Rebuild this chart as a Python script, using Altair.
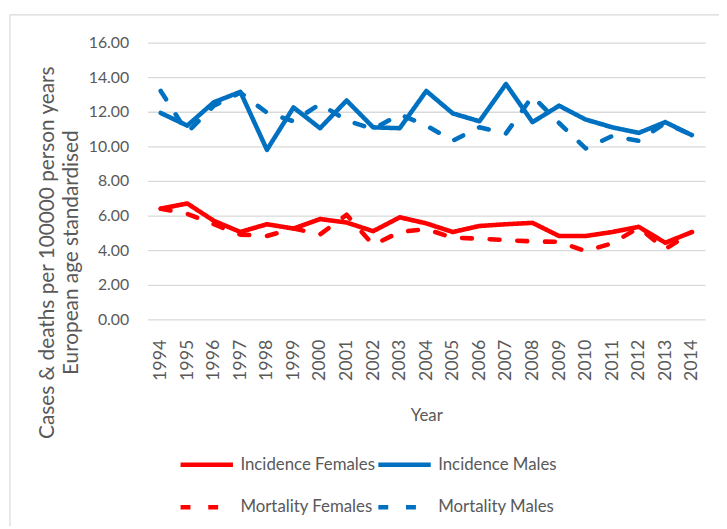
import altair as alt
import pandas as pd

years = [str(y) for y in range(1994, 2015)]
inc_f = [6.4, 6.7, 5.7, 5.05, 5.5, 5.25, 5.8, 5.6, 5.1, 5.9, 5.55, 5.05, 5.4, 5.5, 5.58, 4.82, 4.82, 5.05, 5.35, 4.43, 5.05]
mort_f = [6.4, 6.1, 5.5, 4.9, 4.82, 5.26, 4.91, 6.05, 4.3, 5.05, 5.22, 4.72, 4.67, 4.58, 4.51, 4.48, 3.95, 4.4, 5.3, 4.06, 5.05]
inc_m = [11.93, 11.2, 12.55, 13.15, 9.8, 12.25, 11.05, 12.65, 11.1, 11.05, 13.2, 11.9, 11.45, 13.6, 11.4, 12.35, 11.55, 11.1, 10.78, 11.4, 10.65]
mort_m = [13.2, 10.8, 12.35, 13.1, 11.95, 11.45, 12.45, 11.5, 11.0, 11.85, 11.2, 10.33, 11.1, 10.75, 12.9, 11.35, 9.88, 10.6, 10.32, 11.35, 10.65]

series_names = ["Incidence Females", "Incidence Males", "Mortality Females", "Mortality Males"]
series_vals = [inc_f, inc_m, mort_f, mort_m]
colors = ["#FF0000", "#0070C0", "#FF0000", "#0070C0"]
dashes = [[1, 0], [1, 0], [10, 18], [10, 18]]
y_ticks = [0, 2, 4, 6, 8, 10, 12, 14, 16]

rows = []
for name, vals in zip(series_names, series_vals):
    for yr, v in zip(years, vals):
        rows.append({"Year": yr, "value": v, "series": name})
df = pd.DataFrame(rows)

FONT = "Lato"
GRAY = "#595959"
GRID = "#d9d9d9"
W, H = 564, 280
PL, PT = 141, 32

legend = alt.Legend(
    title=None, orient="none", legendX=31, legendY=398, columns=2, direction="horizontal",
    symbolType="stroke", symbolSize=2809, symbolStrokeWidth=4.5,
    labelFont=FONT, labelFontSize=17, labelColor=GRAY, labelOffset=5,
    columnPadding=-8, rowPadding=5, labelLimit=300,
)

lines = alt.Chart(df).mark_line(strokeWidth=4.6, strokeCap="round", strokeJoin="round").encode(
    x=alt.X("Year:O", scale=alt.Scale(type="point", padding=0.5),
            axis=alt.Axis(title="Year", labelAngle=270, ticks=False, domain=False, grid=False,
                          labelFont=FONT, labelFontSize=18, labelColor=GRAY, labelPadding=20,
                          titleFont=FONT, titleFontSize=17, titleFontWeight="normal", titleColor=GRAY,
                          titleY=97, titleBaseline="middle")),
    y=alt.Y("value:Q", scale=alt.Scale(domain=[0, 16]),
            axis=alt.Axis(title=["Cases & deaths per 100000 person years", "European age standardised"],
                          values=y_ticks, format=".2f", ticks=False, domain=False,
                          gridColor=GRID, gridWidth=1.3,
                          labelFont=FONT, labelFontSize=16, labelColor=GRAY, labelPadding=19,
                          titleFont=FONT, titleFontSize=21, titleFontWeight="normal", titleColor=GRAY,
                          titleX=-101, titleY=212, titleAngle=270, titleAlign="center",
                          titleBaseline="middle", titleLineHeight=24)),
    color=alt.Color("series:N", scale=alt.Scale(domain=series_names, range=colors), legend=legend),
    strokeDash=alt.StrokeDash("series:N", scale=alt.Scale(domain=series_names, range=dashes), legend=legend),
)

frame_df = pd.DataFrame({"a": [0]})
frame_top = alt.Chart(frame_df).mark_rule(color=GRID, strokeWidth=1.2).encode(
    x=alt.value(10 - 8 - PL), x2=alt.value(727 - 8 - PL), y=alt.value(12 - 8 - PT))
frame_left = alt.Chart(frame_df).mark_rule(color=GRID, strokeWidth=1.2).encode(
    x=alt.value(10 - 8 - PL), y=alt.value(12 - 8 - PT), y2=alt.value(529 - 8 - PT))

chart = alt.layer(frame_top, frame_left, lines).properties(
    width=W, height=H,
    autosize=alt.AutoSizeParams(type="none"),
    padding={"left": PL, "top": PT, "right": 14, "bottom": 209},
).configure_view(stroke=None)

chart.save("out.html", embed_options={"renderer": "svg", "actions": False})
